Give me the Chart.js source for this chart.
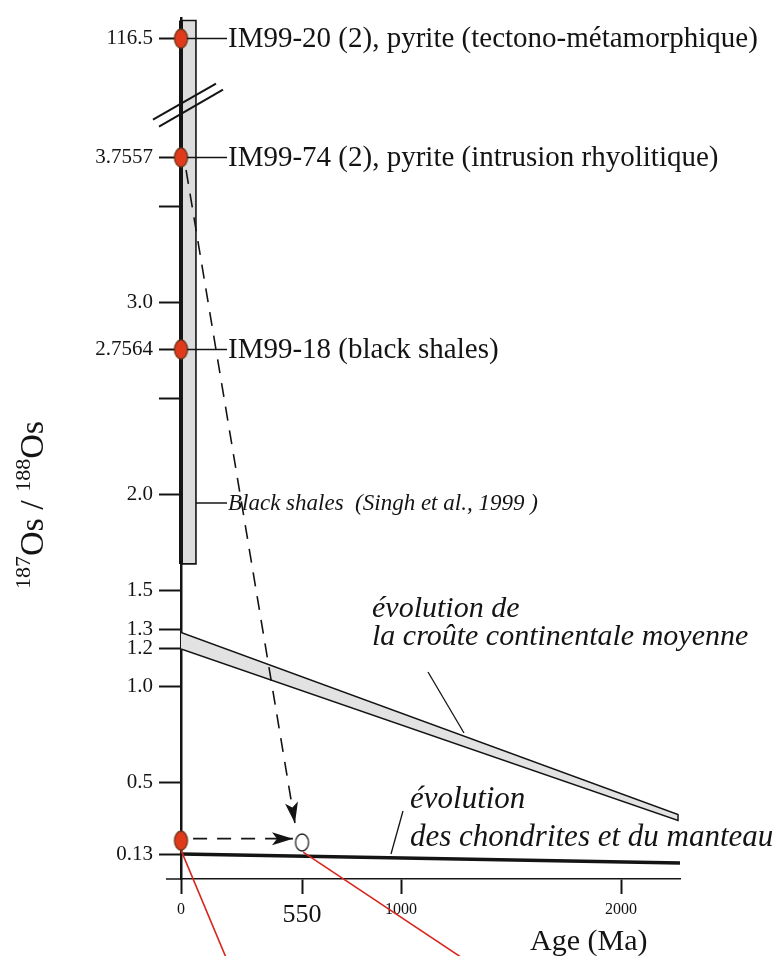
<!DOCTYPE html>
<html>
<head>
<meta charset="utf-8">
<script src="https://cdn.jsdelivr.net/npm/chart.js@4.4.1/dist/chart.umd.min.js"></script>
<style>
  html, body { margin: 0; padding: 0; background: #fff; }
  #wrap { width: 781px; height: 956px; position: relative; }
</style>
</head>
<body>
<div id="wrap"><canvas id="osChart"></canvas></div>
<script>
// Os isotope samples, all plotted at present day (age 0)
const sampleNames = [
  'IM99-20 (2), pyrite (tectono-métamorphique)',
  'IM99-74 (2), pyrite (intrusion rhyolitique)',
  'IM99-18 (black shales)'
];
const sampleRatios = [116.5, 3.7557, 2.7564];

// black shales range (top runs past the axis break)
const shaleRange = [1.64, 4.468];
const shaleLabel = 'Black shales  (Singh et al., 1999 )';

// average continental crust band
const crustAges = [0, 2259];
const crustUpper = [1.283, 0.335];
const crustLower = [1.197, 0.305];

// chondrites / mantle evolution
const mantleAges = [0, 2268];
const mantleRatios = [0.13, 0.083];

// present-day point and its position back at 550 Ma
const modelAges = [0, 550];
const modelRatios = [0.2, 0.19];

// axis ticks
const yTickValues = [0.13, 0.5, 1.0, 1.2, 1.3, 1.5, 2.0, 2.5, 2.7564, 3.0, 3.5, 3.7557, 116.5];
const yTickLabels = ['0.13', '0.5', '1.0', '1.2', '1.3', '1.5', '2.0', '', '2.7564', '3.0', '', '3.7557', '116.5'];
const xTickValues = [0, 550, 1000, 2000];
const xTickLabels = ['0', '550', '1000', '2000'];

// broken y axis: anything above breakAt is drawn in the slot above the break
const breakAt = 4.03;
const aboveBreak = 4.374;
const toAxis = r => (r > breakAt ? aboveBreak : r);

const SERIF = '"Liberation Serif", "Times New Roman", serif';
const INK = '#141414';

function ellipseDot(w, h, fill, stroke) {
  const c = document.createElement('canvas');
  c.width = w + 4;
  c.height = h + 4;
  const g = c.getContext('2d');
  g.beginPath();
  g.ellipse(c.width / 2, c.height / 2, w / 2, h / 2, 0, 0, Math.PI * 2);
  g.fillStyle = fill;
  g.fill();
  g.lineWidth = 1.3;
  g.strokeStyle = stroke;
  g.stroke();
  return c;
}
const redDot = ellipseDot(13, 19, '#e03a1c', '#6a3418');
const openDot = ellipseDot(13, 17, '#ffffff', '#222');

function arrowHead(ctx, from, to) {
  const a = Math.atan2(to.y - from.y, to.x - from.x);
  ctx.save();
  ctx.translate(to.x, to.y);
  ctx.rotate(a);
  ctx.beginPath();
  ctx.moveTo(0, 0);
  ctx.lineTo(-21, -6.5);
  ctx.lineTo(-16, 0);
  ctx.lineTo(-21, 6.5);
  ctx.closePath();
  ctx.fill();
  ctx.restore();
}

function seg(ctx, x1, y1, x2, y2) {
  ctx.beginPath();
  ctx.moveTo(x1, y1);
  ctx.lineTo(x2, y2);
  ctx.stroke();
}

const figureNotes = {
  id: 'figureNotes',
  afterDatasetsDraw(chart) {
    const { ctx, scales: { x, y } } = chart;
    const x0 = x.getPixelForValue(0);
    ctx.save();
    ctx.strokeStyle = INK;
    ctx.fillStyle = INK;

    // x axis line runs a little left of the y axis
    ctx.lineWidth = 1.5;
    seg(ctx, x0 - 15, chart.chartArea.bottom, x0, chart.chartArea.bottom);

    // sample names with leaders
    ctx.font = '29px ' + SERIF;
    ctx.textBaseline = 'middle';
    ctx.textAlign = 'left';
    sampleRatios.forEach((r, i) => {
      const py = y.getPixelForValue(toAxis(r));
      seg(ctx, x0 + 6, py, x0 + 46, py);
      ctx.fillText(sampleNames[i], x0 + 47, py + 1);
    });

    // black shales label
    const shaleY = 503;
    seg(ctx, x0 + 15, shaleY, x0 + 46, shaleY);
    ctx.font = 'italic 23px ' + SERIF;
    ctx.fillText(shaleLabel, x0 + 47, shaleY + 1);

    // axis break marks
    const by = y.getPixelForValue(breakAt);
    ctx.lineWidth = 2;
    seg(ctx, x0 - 28, by + 15, x0 + 35, by - 21);
    seg(ctx, x0 - 22, by + 22, x0 + 42, by - 15);

    // arrowheads on the dashed arrows
    [3, 4].forEach(i => {
      const pts = chart.getDatasetMeta(i).data;
      arrowHead(ctx, pts[pts.length - 2], pts[pts.length - 1]);
    });

    // evolution labels
    ctx.lineWidth = 1.3;
    ctx.textBaseline = 'alphabetic';
    ctx.font = 'italic 30px ' + SERIF;
    ctx.fillText('évolution de', 372, 617);
    ctx.fillText('la croûte continentale moyenne', 372, 645);
    seg(ctx, 428, 672, 464, 733);
    ctx.font = 'italic 31px ' + SERIF;
    ctx.fillText('évolution', 410, 808);
    ctx.fillText('des chondrites et du manteau', 410, 846);
    seg(ctx, 403, 811, 391, 854);

    // x title
    ctx.font = '30px ' + SERIF;
    ctx.fillText('Age (Ma)', 530, 950);

    // y title with superscripts
    ctx.translate(43, 505);
    ctx.rotate(-Math.PI / 2);
    const parts = [['187', 22, -13], ['Os / ', 34, 0], ['188', 22, -13], ['Os', 34, 0]];
    let total = 0;
    parts.forEach(p => { ctx.font = p[1] + 'px ' + SERIF; total += ctx.measureText(p[0]).width; });
    let cx = -total / 2;
    parts.forEach(p => {
      ctx.font = p[1] + 'px ' + SERIF;
      ctx.fillText(p[0], cx, p[2]);
      cx += ctx.measureText(p[0]).width;
    });
    ctx.restore();
  }
};

const redPoints = sampleRatios.map(r => ({ x: 0, y: toAxis(r) }));
redPoints.push({ x: modelAges[0], y: modelRatios[0] });

const lineBase = { showLine: true, pointRadius: 0, fill: false, tension: 0 };

new Chart(document.getElementById('osChart'), {
  type: 'scatter',
  data: {
    datasets: [
      // 0: measured samples
      { data: redPoints, pointStyle: redDot, pointRadius: 8, showLine: false, clip: false },
      // 1: open circle at 550 Ma
      { data: [{ x: modelAges[1], y: modelRatios[1] }], pointStyle: openDot, pointRadius: 8, showLine: false, clip: false },
      // 2: red leaders running off the bottom
      {
        ...lineBase, clip: false, borderColor: '#d8261c', borderWidth: 1.6,
        data: [{ x: 0, y: 0.15 }, { x: 205, y: -0.41 }]
      },
      // 3: dashed arrow from IM99-74 down to 550 Ma
      {
        ...lineBase, borderColor: INK, borderWidth: 1.6, borderDash: [14, 10],
        data: [{ x: 23, y: 3.69 }, { x: 518, y: 0.29 }]
      },
      // 4: dashed arrow from present-day point to 550 Ma
      {
        ...lineBase, borderColor: INK, borderWidth: 1.6, borderDash: [14, 10],
        data: [{ x: 55, y: 0.21 }, { x: 509, y: 0.21 }]
      },
      // 5: second red leader
      {
        ...lineBase, clip: false, borderColor: '#d8261c', borderWidth: 1.6,
        data: [{ x: 555, y: 0.14 }, { x: 1277, y: -0.41 }]
      },
      // 6: mantle line
      {
        ...lineBase, borderColor: INK, borderWidth: 3.5, clip: false,
        data: mantleAges.map((a, i) => ({ x: a, y: mantleRatios[i] }))
      },
      // 7: crust band
      {
        ...lineBase, fill: 'shape', borderColor: INK, borderWidth: 1.5, backgroundColor: '#e2e2e2',
        data: [
          { x: crustAges[0], y: crustUpper[0] }, { x: crustAges[1], y: crustUpper[1] },
          { x: crustAges[1], y: crustLower[1] }, { x: crustAges[0], y: crustLower[0] }
        ]
      },
      // 8: black shales column
      {
        ...lineBase, fill: 'shape', borderColor: INK, borderWidth: 1.6, backgroundColor: '#dcdcdc', clip: false,
        segment: { borderWidth: c => (c.p0DataIndex === 0 ? 4 : 1.6) },
        data: [
          { x: 0, y: shaleRange[0] }, { x: 0, y: shaleRange[1] }, { x: 68, y: shaleRange[1] },
          { x: 68, y: shaleRange[0] }, { x: 0, y: shaleRange[0] }
        ]
      }
    ]
  },
  options: {
    responsive: true,
    maintainAspectRatio: false,
    animation: false,
    layout: { padding: { left: 0, right: 101, top: 13, bottom: 0 } },
    plugins: { legend: { display: false }, tooltip: { enabled: false } },
    scales: {
      x: {
        type: 'linear', min: 0, max: 2268, position: 'bottom',
        afterBuildTicks: s => { s.ticks = xTickValues.map(v => ({ value: v })); },
        afterFit: s => { s.height = 77; },
        grid: { drawOnChartArea: false, drawTicks: true, tickLength: 15, tickWidth: 2, tickColor: INK },
        border: { display: true, color: INK, width: 1.5 },
        ticks: {
          padding: 6, color: INK, autoSkip: false, maxRotation: 0,
          font: c => ({ family: SERIF, size: c.tick && c.tick.value === 550 ? 26 : 16 }),
          callback: (v, i) => xTickLabels[i]
        }
      },
      y: {
        type: 'linear', min: 0, max: 4.478, position: 'left',
        afterBuildTicks: s => { s.ticks = yTickValues.map(v => ({ value: toAxis(v) })); },
        afterFit: s => { s.width = 181; },
        grid: { drawOnChartArea: false, drawTicks: true, tickLength: 22, tickWidth: 2, tickColor: INK },
        border: { display: true, color: INK, width: 2.5 },
        ticks: {
          padding: 6, color: INK, autoSkip: false,
          font: { family: SERIF, size: 21 },
          callback: (v, i) => yTickLabels[i]
        }
      }
    }
  },
  plugins: [figureNotes]
});
</script>
</body>
</html>
